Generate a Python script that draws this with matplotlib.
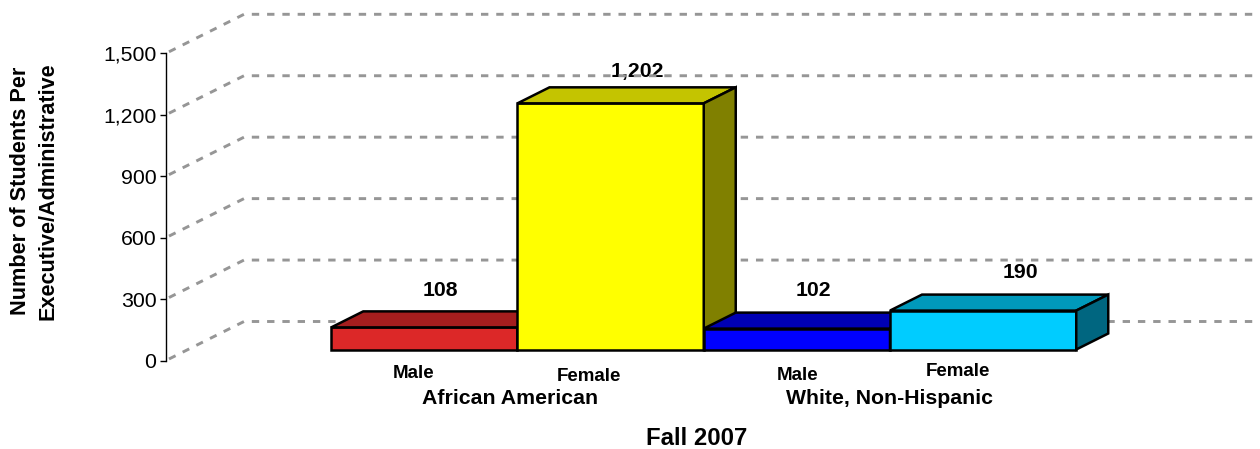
import matplotlib
matplotlib.use('Agg')
import matplotlib.pyplot as plt
from matplotlib.patches import Polygon
from matplotlib.lines import Line2D
from matplotlib.transforms import IdentityTransform
from matplotlib.ticker import FuncFormatter
import numpy as np

# ---------------- data ----------------
groups = ["African American", "White, Non-Hispanic"]
genders = ["Male", "Female", "Male", "Female"]
values = [108, 1202, 102, 190]
value_labels = ["108", "1,202", "102", "190"]
y_ticks = [0, 300, 600, 900, 1200, 1500]
x_title = "Fall 2007"
y_title = "Number of Students Per\nExecutive/Administrative"

# ---------------- styles ----------------
front_colors = ['#DC2828', '#FFFF00', '#0000FF', '#00CCFF']
top_colors = ['#A51E1E', '#C4C400', '#0000B4', '#0099BB']
side_colors = ['#6E1414', '#808000', '#000080', '#006680']
value_offsets = [(38, 42), (49, 37), (39, 44), (59, 44)]      # px (label baseline)
gender_offsets = [(11, -18), (0, -20.5), (23, -19.5), (-3, -16)]
group_offsets = [(15, -44), (22, -44)]
title_offset = (15, -84.5)

plt.rcParams['font.family'] = ['Liberation Sans', 'DejaVu Sans']
plt.rcParams['lines.scale_dashes'] = False

W, H = 1260, 449
fig = plt.figure(figsize=(W / 100, H / 100), dpi=100)
y0_px, y1500_px = 360.5, 53.3
ax = fig.add_axes([166 / W, (H - y0_px) / H, (1185 - 166) / W, (y0_px - y1500_px) / H])
ax.set_xlim(-1.269, 4.202)
ax.set_ylim(0, 1500)
ax.patch.set_visible(False)
for s in ['top', 'right', 'bottom']:
    ax.spines[s].set_visible(False)
ax.spines['left'].set_linewidth(1.0)
ax.set_xticks([])
ax.set_yticks(y_ticks)
ax.yaxis.set_major_formatter(FuncFormatter(lambda v, p: f"{int(v):,}"))
ax.tick_params(axis='y', length=4, width=1, pad=3, labelsize=15.3, colors='black')

depth = np.array([78.0, 39.0])
f_front, f_back = 11 / 39, 27 / 39
T = ax.transData.transform
ident = IdentityTransform()

# back-wall gridlines (diagonal on the left wall + horizontal on back wall)
xl0, xl1 = ax.get_xlim()
for v in y_ticks:
    p0 = T((xl0, v)) + np.array([3.0, 1.5])
    p1 = T((xl0, v)) + depth
    p2 = T((xl1, v)) + depth
    ln = Line2D([p0[0], p1[0], p2[0]], [p0[1], p1[1], p2[1]], transform=ident,
                color='#969696', lw=2.1, dashes=(5.3, 5.7), zorder=1)
    fig.add_artist(ln)

# 3D bars
F = depth * f_front
d = depth * (f_back - f_front)
for i, v in enumerate(values):
    A = T((i - 0.5, 0)) + F
    B = T((i + 0.5, 0)) + F
    C = T((i + 0.5, v)) + F
    D = T((i - 0.5, v)) + F
    kw = dict(transform=ident, ec='black', lw=1.8, joinstyle='miter', zorder=3 + i)
    fig.add_artist(Polygon([A, B, C, D], closed=True, fc=front_colors[i], **kw))
    fig.add_artist(Polygon([D, C, C + d, D + d], closed=True, fc=top_colors[i], **kw))
    fig.add_artist(Polygon([B, C, C + d, B + d], closed=True, fc=side_colors[i], **kw))

# value labels
for i, (v, lab) in enumerate(zip(values, value_labels)):
    ax.annotate(lab, xy=(i, v), xytext=value_offsets[i], textcoords='offset pixels',
                ha='center', va='baseline', fontsize=15.3, fontweight='bold',
                annotation_clip=False, zorder=20)

# category labels
for i, g in enumerate(genders):
    ax.annotate(g, xy=(i, 0), xytext=gender_offsets[i], textcoords='offset pixels',
                ha='center', va='baseline', fontsize=13.5, fontweight='bold',
                annotation_clip=False)
for j, g in enumerate(groups):
    ax.annotate(g, xy=(2 * j + 0.5, 0), xytext=group_offsets[j], textcoords='offset pixels',
                ha='center', va='baseline', fontsize=15.3, fontweight='bold',
                annotation_clip=False)
ax.annotate(x_title, xy=(1.5, 0), xytext=title_offset, textcoords='offset pixels',
            ha='center', va='baseline', fontsize=17.2, fontweight='bold',
            annotation_clip=False)

fig.text(34 / W, 1 - 191 / H, y_title, rotation=90, ha='center', va='center',
         multialignment='center', fontsize=15.6, fontweight='bold', linespacing=1.42)

fig.savefig('out.png', dpi=100)
